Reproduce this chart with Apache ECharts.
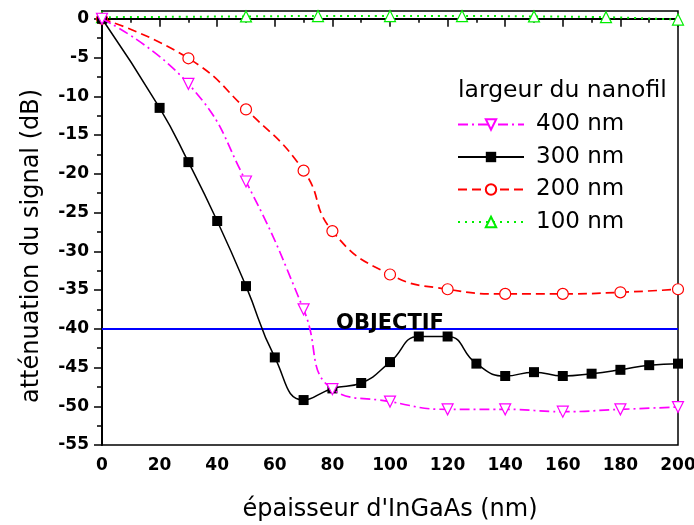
<!DOCTYPE html>
<html>
<head>
<meta charset="utf-8">
<script src="https://cdn.jsdelivr.net/npm/echarts@6/dist/echarts.min.js"></script>
<style>
html,body{margin:0;padding:0;background:#fff;}
#chart{width:694px;height:525px;}
</style>
</head>
<body>
<div id="chart"></div>
<script>
// ---- data ----
const x300 = [0, 20, 30, 40, 50, 60, 70, 80, 90, 100, 110, 120, 130, 140, 150, 160, 170, 180, 190, 200];
const y300 = [0, -11.5, -18.5, -26.1, -34.5, -43.7, -49.2, -47.7, -47.0, -44.3, -41.0, -41.0, -44.5, -46.1, -45.6, -46.1, -45.8, -45.3, -44.7, -44.5];
const x400 = [0, 30, 50, 70, 80, 100, 120, 140, 160, 180, 200];
const y400 = [0, -8.4, -21.0, -37.5, -47.8, -49.4, -50.4, -50.4, -50.7, -50.4, -50.1];
const x200 = [0, 30, 50, 70, 80, 100, 120, 140, 160, 180, 200];
const y200 = [0, -5.1, -11.7, -19.6, -27.4, -33.0, -34.9, -35.5, -35.5, -35.3, -34.9];
const x100 = [0, 50, 75, 100, 125, 150, 175, 200];
const y100 = [0.2, 0.3, 0.35, 0.35, 0.35, 0.3, 0.2, -0.1];
const objectif = -40;
const objectifLabel = 'OBJECTIF';
const legendNames = ['400 nm', '300 nm', '200 nm', '100 nm'];
const legendTitle = 'largeur du nanofil';
const xTitle = "épaisseur d'InGaAs (nm)";
const yTitle = 'atténuation du signal (dB)';
const yTickValues = [-55, -50, -45, -40, -35, -30, -25, -20, -15, -10, -5, 0];

const pairs = (xs, ys) => xs.map((x, i) => [x, ys[i]]);
const FONT = 'DejaVu Sans';

const chart = echarts.init(document.getElementById('chart'), null, {renderer: 'canvas'});
chart.setOption({
  animation: false,
  backgroundColor: '#fff',
  title: {
    text: legendTitle, left: 458, top: 79, padding: 0,
    textStyle: {fontFamily: FONT, fontSize: 23.5, fontWeight: 'normal', color: '#000'}
  },
  legend: {
    data: legendNames, orient: 'vertical', left: 457, top: 113, padding: 0,
    itemWidth: 66, itemHeight: 13, itemGap: 9.5,
    textStyle: {fontFamily: FONT, fontSize: 23, color: '#000', padding: [0, 0, 0, 7]}
  },
  grid: {left: 102, right: 16, top: 11, bottom: 80, outerBoundsMode: 'none', containLabel: false,
    show: true, borderColor: '#000', borderWidth: 1.5, backgroundColor: 'transparent'},
  xAxis: {
    type: 'value', min: 0, max: 200, interval: 20,
    name: xTitle, nameLocation: 'middle', nameGap: 53,
    nameTextStyle: {fontFamily: FONT, fontSize: 24, color: '#000'},
    axisLine: {lineStyle: {color: '#000', width: 2}},
    axisTick: {inside: false, length: 8, lineStyle: {color: '#000', width: 1.5}},
    minorTick: {show: true, splitNumber: 2, length: 4, lineStyle: {color: '#000', width: 1.5}},
    axisLabel: {fontFamily: FONT, fontSize: 17, fontWeight: 'bold', color: '#000', margin: 12},
    splitLine: {show: false}
  },
  yAxis: {
    type: 'value', min: -55, max: 1, interval: 5,
    name: yTitle, nameLocation: 'middle', nameGap: 58, nameRotate: 90,
    nameTextStyle: {fontFamily: FONT, fontSize: 24, color: '#000', padding: [0, 36, 0, 0]},
    axisLine: {lineStyle: {color: '#000', width: 2}},
    axisTick: {inside: false, length: 8, lineStyle: {color: '#000', width: 1.5}, customValues: yTickValues},
    minorTick: {show: true, splitNumber: 2, length: 5, lineStyle: {color: '#000', width: 1.5}},
    axisLabel: {fontFamily: FONT, fontSize: 17, fontWeight: 'bold', color: '#000', margin: 13,
      customValues: yTickValues},
    splitLine: {show: false}
  },
  series: [
    {
      name: '100 nm', type: 'line', data: pairs(x100, y100), smooth: 0.5,
      symbol: 'triangle', symbolSize: 11, color: '#00ee00',
      itemStyle: {color: '#fff', borderColor: '#00ee00', borderWidth: 1.2},
      lineStyle: {color: '#00ee00', width: 2, type: [2, 5]}, z: 3
    },
    {
      name: '200 nm', type: 'line', data: pairs(x200, y200), smooth: 0.5,
      symbol: 'circle', symbolSize: 11, color: '#ff0000',
      itemStyle: {color: '#fff', borderColor: '#ff0000', borderWidth: 1.2},
      lineStyle: {color: '#ff0000', width: 1.7, type: [9, 5]}, z: 4,
      markLine: {
        silent: true, symbol: 'none',
        lineStyle: {color: '#0000ff', width: 2, type: 'solid'},
        label: {show: true, position: 'insideMiddleTop', distance: -5, formatter: objectifLabel,
          fontFamily: FONT, fontSize: 21, fontWeight: 'bold', color: '#000'},
        data: [{yAxis: objectif}]
      }
    },
    {
      name: '300 nm', type: 'line', data: pairs(x300, y300), smooth: 0.5,
      symbol: 'rect', symbolSize: 10, color: '#000',
      itemStyle: {color: '#000'},
      lineStyle: {color: '#000', width: 1.5, type: 'solid'}, z: 5
    },
    {
      name: '400 nm', type: 'line', data: pairs(x400, y400), smooth: 0.5,
      symbol: 'path://M0,0L10,0L5,9Z', symbolSize: 11, color: '#ff00ff',
      itemStyle: {color: '#fff', borderColor: '#ff00ff', borderWidth: 1.2},
      lineStyle: {color: '#ff00ff', width: 1.7, type: [10, 4, 2, 4]}, z: 6
    }
  ]
});
</script>
</body>
</html>
